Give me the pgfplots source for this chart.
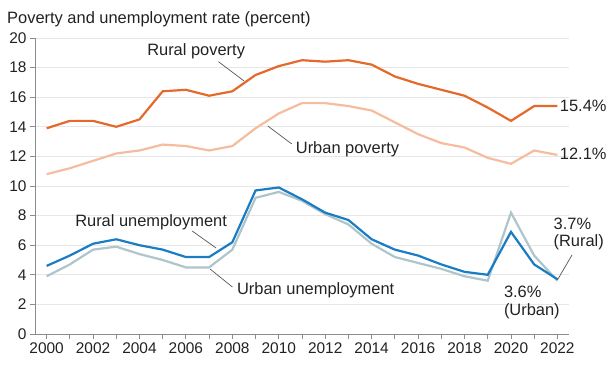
\documentclass[border=0pt]{standalone}
\usepackage{fontspec}
\setmainfont{Liberation Sans}
\usepackage{pgfplots}
\pgfplotsset{compat=1.18}

\definecolor{rpov}{HTML}{E4692A}
\definecolor{upov}{HTML}{F6BC9E}
\definecolor{rune}{HTML}{1A7DC3}
\definecolor{uune}{HTML}{AFC5CC}
\definecolor{axgray}{HTML}{8C8C8C}
\definecolor{gridgray}{HTML}{E6E6E6}
\definecolor{txt}{HTML}{222222}
\definecolor{lead}{HTML}{555555}

\pgfplotstableread{
year rpov upov rune uune
2000 13.9 10.8 4.6 3.9
2001 14.4 11.2 5.3 4.7
2002 14.4 11.7 6.1 5.7
2003 14.0 12.2 6.4 5.9
2004 14.5 12.4 6.0 5.4
2005 16.4 12.8 5.7 5.0
2006 16.5 12.7 5.2 4.5
2007 16.1 12.4 5.2 4.5
2008 16.4 12.7 6.2 5.7
2009 17.5 13.9 9.7 9.2
2010 18.1 14.9 9.9 9.6
2011 18.5 15.6 9.1 9.0
2012 18.4 15.6 8.2 8.1
2013 18.5 15.4 7.7 7.4
2014 18.2 15.1 6.4 6.1
2015 17.4 14.3 5.7 5.2
2016 16.9 13.5 5.3 4.8
2017 16.5 12.9 4.7 4.4
2018 16.1 12.6 4.2 3.9
2019 15.3 11.9 4.0 3.6
2020 14.4 11.5 6.9 8.2
2021 15.4 12.4 4.7 5.3
2022 15.4 12.1 3.7 3.6
}\data

\begin{document}
\begin{tikzpicture}[x=1bp,y=1bp]
\useasboundingbox (0,0) rectangle (610,370);
\node[anchor=base west, inner sep=0, text=txt, font=\fontsize{16.5}{18}\selectfont] at (7,347) {Poverty and unemployment rate (percent)};
\begin{axis}[
  at={(35bp,36bp)}, anchor=south west,
  scale only axis, width=534bp, height=296bp,
  xmin=1999.5, xmax=2022.5, ymin=0, ymax=20,
  axis x line*=bottom, axis y line*=left,
  axis line style={draw=axgray, line width=0.9bp, -},
  xtick={2000,2002,...,2022},
  minor xtick={2001,2003,...,2021},
  ytick={0,2,...,20},
  tick align=outside,
  major tick length=5bp, minor tick length=5bp,
  tick style={draw=axgray, line width=0.9bp},
  ymajorgrids,
  major grid style={draw=gridgray, line width=0.8bp},
  /pgf/number format/1000 sep={},
  /pgf/number format/assume math mode=true,
  tick label style={font=\fontsize{15.5}{17}\selectfont, text=txt},
  clip=false,
]
\addplot[upov, line width=2.2bp] table[x=year, y=upov] {\data};
\addplot[rpov, line width=2.2bp] table[x=year, y=rpov] {\data};
\addplot[uune, line width=2.2bp] table[x=year, y=uune] {\data};
\addplot[rune, line width=2.2bp] table[x=year, y=rune] {\data};

\tikzset{lbl/.style={text=txt, inner sep=0, font=\fontsize{16.5}{18}\selectfont}}
\node[lbl] at (axis cs:2006.44,19.1) {Rural poverty};
\draw[lead, line width=0.7bp] (axis cs:2007.4,18.4) -- (axis cs:2008.5,17.1);
\node[lbl] at (axis cs:2012.96,12.5) {Urban poverty};
\draw[lead, line width=0.7bp] (axis cs:2009.53,14.05) -- (axis cs:2010.56,12.84);
\node[lbl, anchor=west] at (axis cs:2022.1,15.4) {15.4\%};
\node[lbl, anchor=west] at (axis cs:2022.1,12.15) {12.1\%};
\node[lbl] at (axis cs:2004.5,7.57) {Rural unemployment};
\draw[lead, line width=0.7bp] (axis cs:2006.27,6.96) -- (axis cs:2007.3,5.81);
\node[lbl] at (axis cs:2011.59,2.97) {Urban unemployment};
\draw[lead, line width=0.7bp] (axis cs:2007.04,4.39) -- (axis cs:2008.0,3.18);
\node[lbl, align=left] at (axis cs:2022.92,6.76) {3.7\%\\(Rural)};
\draw[lead, line width=0.7bp] (axis cs:2022.63,5.34) -- (axis cs:2022.0,3.65);
\node[lbl, align=left] at (axis cs:2020.9,2.16) {3.6\%\\(Urban)};
\end{axis}
\end{tikzpicture}
\end{document}
